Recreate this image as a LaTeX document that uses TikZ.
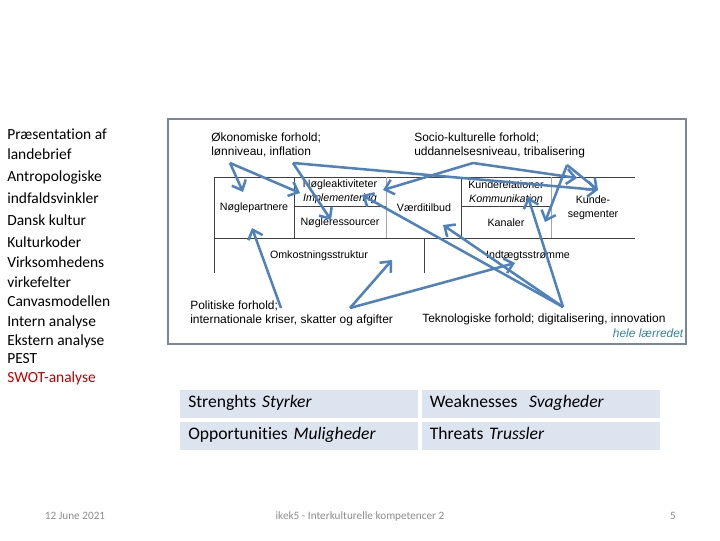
\documentclass[tikz,border=0pt]{standalone}
\usepackage{fontspec}
\setmainfont{Carlito}[Ligatures=NoCommon]
\newfontfamily\arialfont{Liberation Sans}
\usepackage{tikz}
\usetikzlibrary{positioning,arrows.meta}

\definecolor{pilblue}{HTML}{4F81BD}
\definecolor{framegray}{HTML}{7A8796}
\definecolor{linedark}{HTML}{404040}
\definecolor{linelight}{HTML}{A6A6A6}
\definecolor{swotfill}{HTML}{DCE4F0}
\definecolor{swotred}{HTML}{C00000}
\definecolor{footgray}{HTML}{8C8C8C}
\definecolor{tealtext}{HTML}{31849B}

\begin{document}
\begin{tikzpicture}[
    x=0.025cm, y=-0.025cm,
    menu/.style={anchor=base west, inner sep=0pt, font=\fontsize{11}{13}\selectfont},
    cell/.style={inner sep=0pt, align=center,
                 font=\arialfont\fontsize{7.6}{9.9}\selectfont},
    pest/.style={inner sep=0pt, anchor=west, align=left,
                 font=\arialfont\fontsize{8.5}{9.9}\selectfont},
    swot/.style={fill=swotfill, inner xsep=0.2cm, inner ysep=0pt,
                 minimum height=0.7cm, text width=5.55cm, align=left,
                 text height=0.72em, text depth=0.22em,
                 font=\fontsize{12.5}{14}\selectfont},
    foot/.style={inner sep=0pt, text=footgray, font=\fontsize{8}{10}\selectfont},
    pil/.style={pilblue, line width=1.8pt,
                -{Straight Barb[length=2.1mm,width=3.8mm]}},
    canvasline/.style={linedark, line width=0.6pt},
    canvaslight/.style={linelight, line width=0.6pt}
  ]
    \useasboundingbox (0,0) rectangle (720,540);

    % left menu
    \foreach \ypos/\txt [count=\i] in {139/Præsentation af, 159/landebrief,
        181/Antropologiske, 203/indfaldsvinkler, 225/Dansk kultur,
        247/Kulturkoder, 267/Virksomhedens, 287/virkefelter,
        306/Canvasmodellen, 326/Intern analyse, 345/Ekstern analyse, 363/PEST}
      \node[menu] (m\i) at (7,\ypos) {\txt};
    \node[menu, text=swotred] (swotmenu) at (7,382) {SWOT-analyse};

    % frame round the canvas picture
    \draw[framegray, line width=1pt] (168,119) rectangle (686,344);

    % canvas grid
    \draw[canvasline] (214,177) -- (635,177);
    \draw[canvasline] (214,238) -- (635,238);
    \draw[canvasline] (214,177) -- (214,273);
    \draw[canvasline] (294,177) -- (294,238);
    \draw[canvaslight] (386,177) -- (386,238);
    \draw[canvasline] (461,177) -- (461,238);
    \draw[canvaslight] (551,177) -- (551,238);
    \draw[canvasline] (424,238) -- (424,273);
    \draw[canvasline] (294,206) -- (386,206);
    \draw[canvasline] (461,206) -- (551,206);

    % canvas cells
    \node[cell] (partner) at (254,208) {Nøglepartnere};
    \node[cell] (aktiv) at (340,192) {Nøgleaktiviteter\\\textit{Implementering}};
    \node[cell] (ress) at (340,223) {Nøgleressourcer};
    \node[cell] (vaerdi) at (424,208) {Værditilbud};
    \node[cell] (relation) at (506,192) {Kunderelationer\\\textit{Kommunikation}};
    \node[cell] (kanal) at (506,223) {Kanaler};
    \node[cell] (segment) at (593,208) {Kunde-\\segmenter};
    \node[cell] (omk) at (319,256) {Omkostningsstruktur};
    \node[cell] (indt) at (528,256) {Indtægtsstrømme};

    % PEST labels
    \node[pest] (oekonomi) at (211,145) {Økonomiske forhold;\\lønniveau, inflation};
    \node[pest] (socio) at (414,145) {Socio-kulturelle forhold;\\uddannelsesniveau, tribalisering};
    \node[pest] (politik) at (190,313) {Politiske forhold;\\internationale kriser, skatter og afgifter};
    \node[pest] (teknologi) at (422,319) {Teknologiske forhold; digitalisering, innovation};
    \node[pest, anchor=east, text=tealtext] (hele) at (684,333) {\textit{hele lærredet}};

    % arrow origins and tips
    \coordinate (oko) at (230,163);
    \coordinate (infl) at (293,163);
    \coordinate (soc) at (473,163);
    \coordinate (trib) at (567,165);
    \coordinate (pol) at (281,308);
    \coordinate (skat) at (350,308);
    \coordinate (tek) at (563,307);
    \coordinate (tPartnerA) at (243,192);
    \coordinate (tPartnerB) at (252,228);
    \coordinate (tImpl) at (300,193);
    \coordinate (tRess) at (331,220);
    \coordinate (tAktivA) at (383,190);
    \coordinate (tAktivB) at (362,195);
    \coordinate (tVaerdi) at (443,225);
    \coordinate (tKomm) at (528,197);
    \coordinate (tRelation) at (577,178);
    \coordinate (tSegment) at (598,190);
    \coordinate (tKanal) at (545,222);
    \coordinate (tOmk) at (392,260);
    \coordinate (tIndt) at (515,263);

    \draw[pil] (oko) -- (tPartnerA);
    \draw[pil] (oko) -- (tImpl);
    \draw[pil] (infl) -- (tRess);
    \draw[pil] (infl) -- (tSegment);
    \draw[pil] (soc) -- (tAktivA);
    \draw[pil] (soc) -- (tRelation);
    \draw[pil] (trib) -- (tSegment);
    \draw[pil] (trib) -- (tKanal);
    \draw[pil] (pol) -- (tPartnerB);
    \draw[pil] (skat) -- (tOmk);
    \draw[pil] (skat) -- (tIndt);
    \draw[pil] (tek) -- (tAktivB);
    \draw[pil] (tek) -- (tVaerdi);
    \draw[pil] (tek) -- (tKomm);

    % SWOT table
    \node[swot, anchor=north west] (S) at (180,390) {Strenghts \textit{Styrker}};
    \node[swot, right=0.075cm of S] (W) {Weaknesses\ \ \textit{Svagheder}};
    \node[swot, below=0.075cm of S] (O) {Opportunities \textit{Muligheder}};
    \node[swot, below=0.075cm of W] (T) {Threats \textit{Trussler}};

    % footer
    \node[foot] (dato) at (75,516) {12 June 2021};
    \node[foot] (titel) at (360,516) {ikek5 - Interkulturelle kompetencer 2};
    \node[foot] (side) at (673,516) {5};
\end{tikzpicture}
\end{document}
